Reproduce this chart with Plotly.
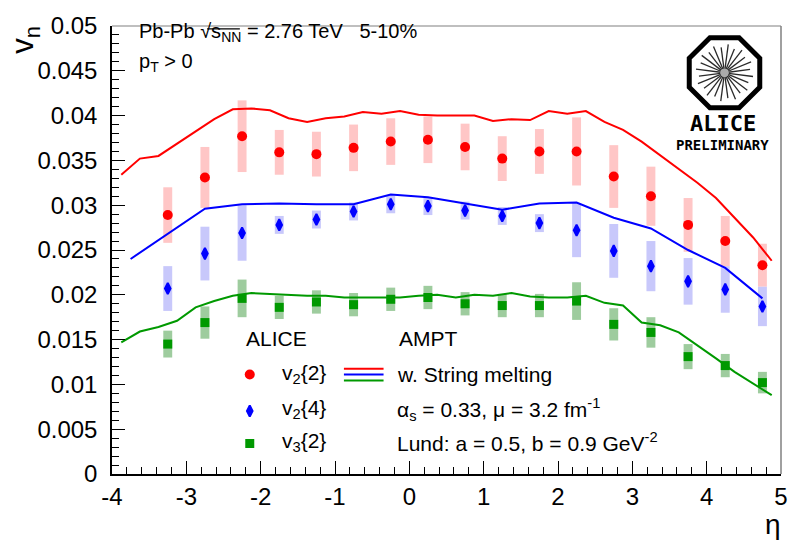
import math
import plotly.graph_objects as go

# ALICE data points (bin centres in eta)
eta = [-3.25, -2.75, -2.25, -1.75, -1.25, -0.75, -0.25, 0.25, 0.75,
       1.25, 1.75, 2.25, 2.75, 3.25, 3.75, 4.25, 4.75]

v2_2 = [0.0289, 0.0331, 0.0377, 0.0359, 0.0357, 0.0364, 0.0371, 0.0373, 0.0365,
        0.0352, 0.0360, 0.0360, 0.0332, 0.0310, 0.0278, 0.0260, 0.0233]
v2_2_sys = [0.0031, 0.0034, 0.0040, 0.0025, 0.0025, 0.0026, 0.0026, 0.0026, 0.0026,
            0.0025, 0.0025, 0.0038, 0.0035, 0.0033, 0.0030, 0.0028, 0.0024]

v2_4 = [0.0207, 0.0246, 0.0269, 0.0278, 0.0284, 0.0293, 0.0301, 0.0299, 0.0294,
        0.0288, 0.0280, 0.0272, 0.0249, 0.0232, 0.0215, 0.0206, 0.0187]
v2_4_sys = [0.0025, 0.0030, 0.0031, 0.0010, 0.0010, 0.0010, 0.0010, 0.0010, 0.0010,
            0.0010, 0.0010, 0.0030, 0.0030, 0.0028, 0.0026, 0.0026, 0.0022]

v3_2 = [0.0145, 0.0169, 0.0196, 0.0186, 0.0192, 0.0189, 0.0195, 0.0197, 0.0190,
        0.0188, 0.0188, 0.0193, 0.0167, 0.0158, 0.0131, 0.0121, 0.0102]
v3_2_sys = [0.0015, 0.0018, 0.0021, 0.0013, 0.0013, 0.0013, 0.0013, 0.0013, 0.0013,
            0.0013, 0.0013, 0.0021, 0.0018, 0.0017, 0.0014, 0.0013, 0.0012]

# AMPT (string melting) curves
eta_fine = [-3.875, -3.625, -3.375, -3.125, -2.875, -2.625, -2.375, -2.125, -1.875,
            -1.625, -1.375, -1.125, -0.875, -0.625, -0.375, -0.125, 0.125, 0.375,
            0.625, 0.875, 1.125, 1.375, 1.625, 1.875, 2.125, 2.375, 2.625,
            2.875, 3.125, 3.375, 3.625, 3.875, 4.125, 4.375, 4.625, 4.875]
ampt_v2_2 = [0.0334, 0.0352, 0.0355, 0.0369, 0.0382, 0.0396, 0.0407, 0.0408, 0.0406,
             0.0397, 0.0393, 0.0397, 0.0399, 0.0404, 0.0402, 0.0405, 0.0401, 0.0400,
             0.0400, 0.0400, 0.0394, 0.0396, 0.0395, 0.0405, 0.0402, 0.0405, 0.0393,
             0.0384, 0.0371, 0.0356, 0.0341, 0.0325, 0.0308, 0.0286, 0.0264, 0.0238]
ampt_v3_2 = [0.0147, 0.0159, 0.0164, 0.0171, 0.0186, 0.0193, 0.0199, 0.0202, 0.0201,
             0.0200, 0.0199, 0.0199, 0.0197, 0.0197, 0.0197, 0.0197, 0.0199, 0.0200,
             0.0197, 0.0200, 0.0199, 0.0202, 0.0198, 0.0197, 0.0197, 0.0199, 0.0191,
             0.0188, 0.0169, 0.0166, 0.0158, 0.0144, 0.0129, 0.0114, 0.0101, 0.0088]

eta_coarse = [-3.75, -3.25, -2.75, -2.25, -1.75, -1.25, -0.75, -0.25, 0.25,
              0.75, 1.25, 1.75, 2.25, 2.75, 3.25, 3.75, 4.25, 4.75]
ampt_v2_4 = [0.0240, 0.0268, 0.0296, 0.0301, 0.0302, 0.0301, 0.0301, 0.0312, 0.0309,
             0.0302, 0.0295, 0.0302, 0.0303, 0.0286, 0.0274, 0.0250, 0.0230, 0.0196]

y_tick_vals = [0, 0.005, 0.01, 0.015, 0.02, 0.025, 0.03, 0.035, 0.04, 0.045, 0.05]
y_tick_text = ["0", "0.005", "0.01", "0.015", "0.02", "0.025", "0.03", "0.035",
               "0.04", "0.045", "0.05"]
x_tick_vals = [-4, -3, -2, -1, 0, 1, 2, 3, 4, 5]
x_tick_text = ["-4", "-3", "-2", "-1", "0", "1", "2", "3", "4", "5"]

RED, BLUE, GREEN = "#ff0000", "#0000ff", "#009900"
RED_BOX, BLUE_BOX, GREEN_BOX = "#ffc6c6", "#c8c8fb", "#9ecc9e"
FONT = "Liberation Sans, Arial, sans-serif"
MONO = "DejaVu Sans Mono, monospace"

# page geometry of the frame (pixels)
L, R, T, B = 112, 787, 19, 474
W, H = 800, 542

fig = go.Figure()

# systematic-uncertainty boxes
for vals, sys, col in [(v2_2, v2_2_sys, RED_BOX), (v2_4, v2_4_sys, BLUE_BOX),
                       (v3_2, v3_2_sys, GREEN_BOX)]:
    fig.add_trace(go.Bar(
        x=eta, y=[2 * s for s in sys], base=[v - s for v, s in zip(vals, sys)],
        width=0.12, marker=dict(color=col, line=dict(width=0)),
        hoverinfo="skip"))

# model curves
fig.add_trace(go.Scatter(x=eta_fine, y=ampt_v2_2, mode="lines",
                         line=dict(color=RED, width=2)))
fig.add_trace(go.Scatter(x=eta_coarse, y=ampt_v2_4, mode="lines",
                         line=dict(color=BLUE, width=2)))
fig.add_trace(go.Scatter(x=eta_fine, y=ampt_v3_2, mode="lines",
                         line=dict(color=GREEN, width=2)))

# data markers
RED_MK = dict(symbol="circle", size=10, color=RED, line=dict(width=0))
BLUE_MK = dict(symbol="diamond-tall", size=8, color=BLUE, line=dict(width=2, color=BLUE))
GREEN_MK = dict(symbol="square", size=9, color=GREEN, line=dict(width=0))
fig.add_trace(go.Scatter(x=eta, y=v2_2, mode="markers", marker=RED_MK))
fig.add_trace(go.Scatter(x=eta, y=v2_4, mode="markers", marker=BLUE_MK))
fig.add_trace(go.Scatter(x=eta, y=v3_2, mode="markers", marker=GREEN_MK))

# legend keys, placed on a pixel-based overlay axis
leg_x = 251
leg_rows = [373, 410, 443]
for yy, mk in zip(leg_rows, [RED_MK, BLUE_MK, GREEN_MK]):
    fig.add_trace(go.Scatter(x=[leg_x], y=[yy], mode="markers", marker=mk,
                             xaxis="x2", yaxis="y2"))
for yy, col in zip([367, 373, 379], [RED, BLUE, GREEN]):
    fig.add_trace(go.Scatter(x=[346, 386], y=[yy, yy], mode="lines",
                             line=dict(color=col, width=2), xaxis="x2", yaxis="y2"))

shapes = []
# grey top/right frame edges
shapes.append(dict(type="line", xref="paper", yref="paper", x0=0, x1=1, y0=1, y1=1,
                   line=dict(color="#808080", width=1.2)))
shapes.append(dict(type="line", xref="paper", yref="paper", x0=1, x1=1, y0=0, y1=1,
                   line=dict(color="#808080", width=1.5)))

# bar of the square-root sign over s_NN
shapes.append(dict(type="line", xref="x2", yref="y2", x0=208, x1=241, y0=22, y1=22,
                   line=dict(color="black", width=1.2)))

# ALICE logo: octagon with radial spokes
cx, cy, rad = 730, 66.5, 38.5
pts = []
for k in range(8):
    a = math.radians(22.5 + 45 * k)
    pts.append((cx + rad * math.cos(a), cy + rad * math.sin(a)))
path = "M " + " L ".join(f"{px:.2f},{py:.2f}" for px, py in pts) + " Z"
shapes.append(dict(type="path", xref="x2", yref="y2", path=path,
                   line=dict(color="black", width=5)))
for k in range(24):
    a = math.radians(15 * k + 7.5)
    r1 = 4
    r2 = 29 if k % 2 == 0 else 26
    shapes.append(dict(type="line", xref="x2", yref="y2",
                       x0=cx + r1 * math.cos(a), y0=cy + r1 * math.sin(a),
                       x1=cx + r2 * math.cos(a), y1=cy + r2 * math.sin(a),
                       line=dict(color="#2a2a2a", width=1.3)))
shapes.append(dict(type="circle", xref="x2", yref="y2", x0=cx - 4, x1=cx + 4,
                   y0=cy - 4, y1=cy + 4, fillcolor="#aaaaaa", line=dict(width=0)))

annotations = []


def txt(x, y, text, size=20, xanchor="left", family=FONT, **kw):
    annotations.append(dict(x=x, y=y, xref="x2", yref="y2", text=text, showarrow=False,
                            xanchor=xanchor, yanchor="middle",
                            font=dict(family=family, size=size, color="black"), **kw))


txt(137, 26, "Pb-Pb \u221as<sub>NN</sub> = 2.76 TeV \u00a0\u00a05-10%", size=20)
txt(137, 56, "p<sub>T</sub> > 0", size=20)
txt(245, 336, "ALICE", size=21)
txt(400, 336, "AMPT", size=21)
txt(282, 372, "v<sub>2</sub>{2}", size=21)
txt(282, 408, "v<sub>2</sub>{4}", size=21)
txt(282, 442, "v<sub>3</sub>{2}", size=21)
txt(398, 373, "w. String melting", size=21)
txt(398, 408, "\u03b1<sub>s</sub> = 0.33, \u03bc = 3.2 fm<sup>-1</sup>", size=21)
txt(398, 442, "Lund: a = 0.5, b = 0.9 GeV<sup>-2</sup>", size=21)
txt(728, 118, "<b>ALICE</b>", size=22, xanchor="center", family=MONO)
txt(728, 140, "<b>PRELIMINARY</b>", size=14, xanchor="center", family=MONO)

# axis titles
annotations.append(dict(x=-0.13, y=1.005, xref="paper", yref="paper",
                        text="v<sub>n</sub>", showarrow=False, textangle=-90,
                        xanchor="center", yanchor="top",
                        font=dict(family=FONT, size=31, color="black")))
annotations.append(dict(x=0.988, y=-0.112, xref="paper", yref="paper",
                        text="\u03b7", showarrow=False, xanchor="center",
                        yanchor="middle",
                        font=dict(family=FONT, size=28, color="black")))

fig.update_layout(
    width=W, height=H,
    margin=dict(l=L, r=W - R, t=T, b=H - B),
    paper_bgcolor="white", plot_bgcolor="white",
    showlegend=False, barmode="overlay",
    shapes=shapes, annotations=annotations,
    xaxis=dict(range=[-4, 5], tickvals=x_tick_vals, ticktext=x_tick_text,
               ticks="inside", ticklen=13,
               tickwidth=1.2, tickcolor="black", showline=True, linecolor="black",
               linewidth=1.5, showgrid=False, zeroline=False,
               tickfont=dict(family=FONT, size=24, color="black"),
               minor=dict(dtick=0.2, ticks="inside", ticklen=7, tickwidth=1.2,
                          tickcolor="black", showgrid=False)),
    yaxis=dict(range=[0, 0.05], tickvals=y_tick_vals, ticktext=y_tick_text,
               ticks="inside", ticklen=13, tickwidth=1.2, tickcolor="black",
               showline=True, linecolor="black", linewidth=1.5, showgrid=False,
               zeroline=False, ticklabelstandoff=8,
               tickfont=dict(family=FONT, size=24, color="black"),
               minor=dict(dtick=0.001, ticks="inside", ticklen=7, tickwidth=1.2,
                          tickcolor="black", showgrid=False)),
    xaxis2=dict(range=[L, R], overlaying="x", visible=False, fixedrange=True),
    yaxis2=dict(range=[B, T], overlaying="y", visible=False, fixedrange=True),
)

fig.write_html("out.html")
